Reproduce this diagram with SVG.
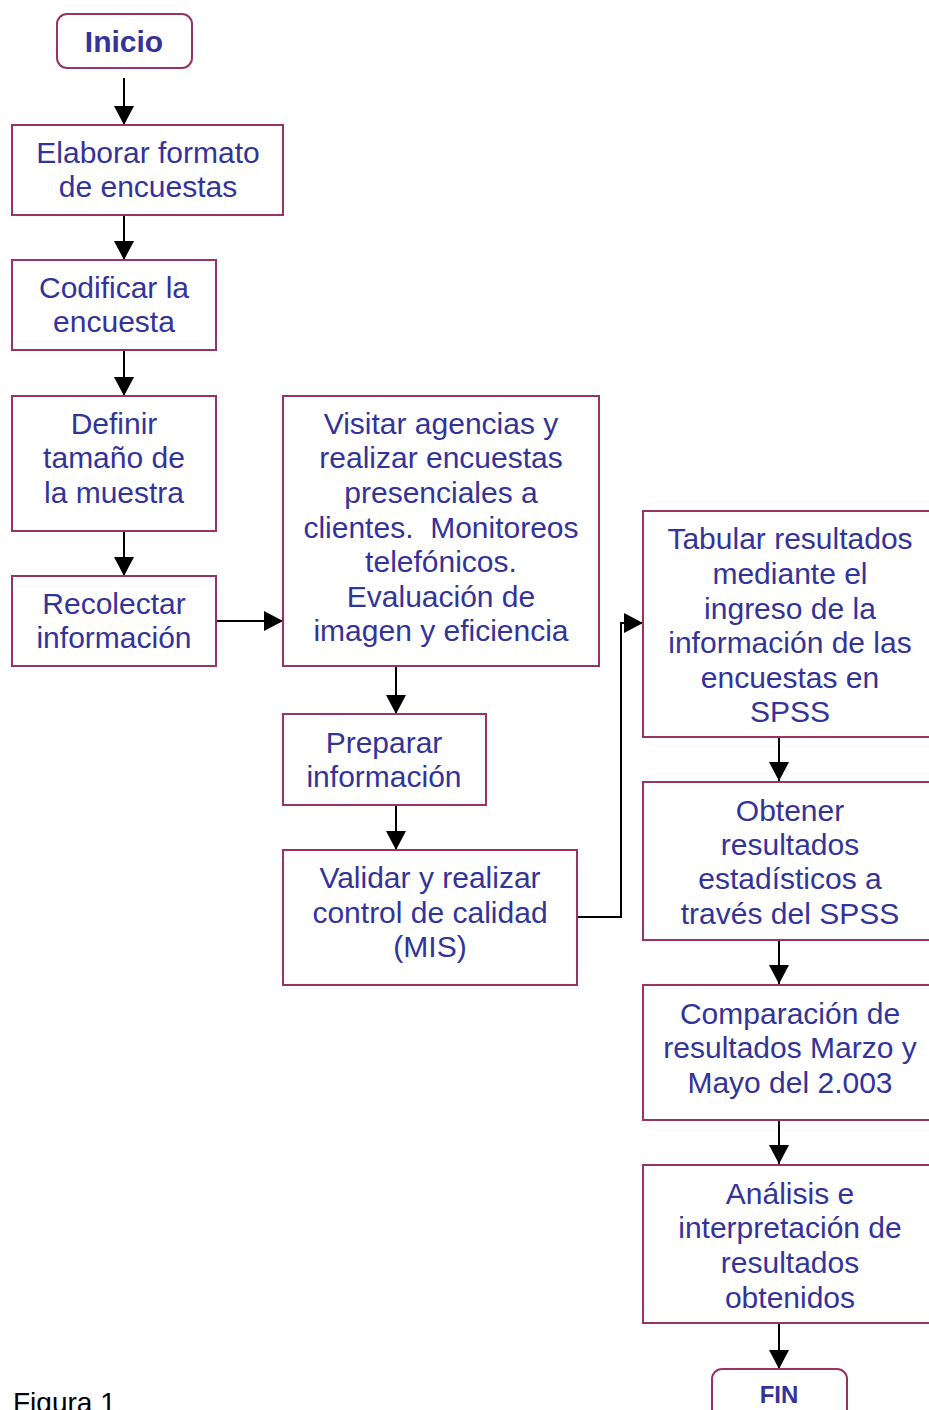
<svg xmlns="http://www.w3.org/2000/svg" width="929" height="1410" viewBox="0 0 929 1410">
<style>
.box{fill:#fff;stroke:#993366;stroke-width:2}
.t{font-family:"Liberation Sans",Arial,sans-serif;font-size:30px;fill:#333399;text-anchor:middle}
.b{font-weight:bold}
.c{fill:none;stroke:#000;stroke-width:2;marker-end:url(#ah)}
</style>
<defs>
<marker id="ah" markerUnits="userSpaceOnUse" markerWidth="19" markerHeight="20" viewBox="0 0 19 20" refX="19" refY="10" orient="auto">
<path d="M0,0 L19,10 L0,20 z" fill="#000"/>
</marker>
</defs>
<rect width="929" height="1410" fill="#fff"/>
<g id="connectors">
<line class="c" x1="124" y1="78" x2="124" y2="125"/>
<line class="c" x1="124" y1="215" x2="124" y2="260"/>
<line class="c" x1="124" y1="350" x2="124" y2="396"/>
<line class="c" x1="124" y1="531" x2="124" y2="576"/>
<line class="c" x1="216" y1="621" x2="283" y2="621"/>
<line class="c" x1="396" y1="666" x2="396" y2="714"/>
<line class="c" x1="396" y1="805" x2="396" y2="850"/>
<polyline class="c" points="577,917 621,917 621,623 643,623"/>
<line class="c" x1="779" y1="737" x2="779" y2="781"/>
<line class="c" x1="779" y1="940" x2="779" y2="984"/>
<line class="c" x1="779" y1="1120" x2="779" y2="1164"/>
<line class="c" x1="779" y1="1323" x2="779" y2="1369"/>
</g>
<g id="inicio">
<rect class="box" x="57" y="14" width="135" height="54" rx="10"/>
<text class="t b" x="124" y="52">Inicio</text>
</g>
<g id="n1">
<rect class="box" x="12" y="125" width="271" height="90"/>
<text class="t" x="148" y="163">Elaborar formato</text>
<text class="t" x="148" y="197">de encuestas</text>
</g>
<g id="n2">
<rect class="box" x="12" y="260" width="204" height="90"/>
<text class="t" x="114" y="298">Codificar la</text>
<text class="t" x="114" y="332">encuesta</text>
</g>
<g id="n3">
<rect class="box" x="12" y="396" width="204" height="135"/>
<text class="t" x="114" y="434">Definir</text>
<text class="t" x="114" y="468">tamaño de</text>
<text class="t" x="114" y="503">la muestra</text>
</g>
<g id="n4">
<rect class="box" x="12" y="576" width="204" height="90"/>
<text class="t" x="114" y="614">Recolectar</text>
<text class="t" x="114" y="648">información</text>
</g>
<g id="n5">
<rect class="box" x="283" y="396" width="316" height="270"/>
<text class="t" x="441" y="434">Visitar agencias y</text>
<text class="t" x="441" y="468">realizar encuestas</text>
<text class="t" x="441" y="503">presenciales a</text>
<text class="t" x="441" y="538" xml:space="preserve">clientes.  Monitoreos</text>
<text class="t" x="441" y="572">telefónicos.</text>
<text class="t" x="441" y="607">Evaluación de</text>
<text class="t" x="441" y="641">imagen y eficiencia</text>
</g>
<g id="n6">
<rect class="box" x="283" y="714" width="203" height="91"/>
<text class="t" x="384" y="753">Preparar</text>
<text class="t" x="384" y="787">información</text>
</g>
<g id="n7">
<rect class="box" x="283" y="850" width="294" height="135"/>
<text class="t" x="430" y="888">Validar y realizar</text>
<text class="t" x="430" y="923">control de calidad</text>
<text class="t" x="430" y="957">(MIS)</text>
</g>
<g id="n8">
<rect class="box" x="643" y="511" width="300" height="226"/>
<text class="t" x="790" y="549">Tabular resultados</text>
<text class="t" x="790" y="584">mediante el</text>
<text class="t" x="790" y="619">ingreso de la</text>
<text class="t" x="790" y="653">información de las</text>
<text class="t" x="790" y="688">encuestas en</text>
<text class="t" x="790" y="722">SPSS</text>
</g>
<g id="n9">
<rect class="box" x="643" y="782" width="300" height="158"/>
<text class="t" x="790" y="821">Obtener</text>
<text class="t" x="790" y="855">resultados</text>
<text class="t" x="790" y="889">estadísticos a</text>
<text class="t" x="790" y="924">través del SPSS</text>
</g>
<g id="n10">
<rect class="box" x="643" y="985" width="300" height="135"/>
<text class="t" x="790" y="1024">Comparación de</text>
<text class="t" x="790" y="1058">resultados Marzo y</text>
<text class="t" x="790" y="1093">Mayo del 2.003</text>
</g>
<g id="n11">
<rect class="box" x="643" y="1165" width="300" height="158"/>
<text class="t" x="790" y="1204">Análisis e</text>
<text class="t" x="790" y="1238">interpretación de</text>
<text class="t" x="790" y="1273">resultados</text>
<text class="t" x="790" y="1308">obtenidos</text>
</g>
<g id="fin">
<rect class="box" x="712" y="1369" width="135" height="54" rx="10"/>
<text class="t b" x="779" y="1403" style="font-size:24px">FIN</text>
</g>
<text x="13" y="1412" style="font-family:'Liberation Sans',Arial,sans-serif;font-size:28px;fill:#000">Figura 1</text>
</svg>
